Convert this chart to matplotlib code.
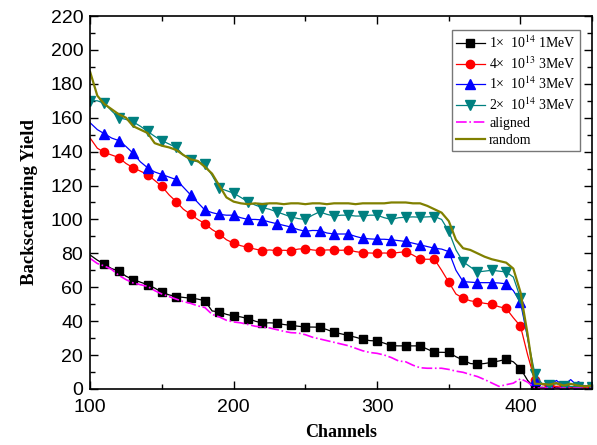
""" RBS spectra: backscattering yield vs channel """

import numpy as np
from matplotlib import pyplot as plt
from matplotlib.ticker import MultipleLocator

channels = np.arange(100, 451, 5)

yield_1e14_1mev = [
    79, 76, 73.5, 71, 69.5, 66.5, 64.5, 63, 61.5, 59.5,
    57, 55.5, 54.5, 54, 53.5, 53, 52, 46, 45.5, 44,
    43, 42.5, 41.5, 40, 38.8, 39, 38.8, 38, 37.5, 37,
    36.5, 36.5, 36.4, 35, 33.4, 32.5, 31.5, 30.5, 29.3, 28.5,
    28.3, 27, 25.5, 25.4, 25.4, 25.4, 25.4, 23.5, 21.6, 21.6,
    21.5, 19, 17, 15, 14.6, 15, 15.7, 16.5, 17.5, 16,
    12, 5, 0.5, 1, 0.5, 1, 0.5, 0.5, 1, 0.5, 0.5,
]
yield_4e13_3mev = [
    148, 142, 139.5, 138, 136.5, 133, 130.5, 128.5, 126.5, 123,
    119.5, 114.5, 110.5, 106, 103, 100, 97.5, 94, 91.5, 88,
    86, 84.5, 83.5, 82.5, 81.6, 82, 81.6, 81.8, 81.6, 82.5,
    82.8, 82, 81.6, 82, 82, 81.8, 82, 81, 80.4, 80.2,
    80, 80.2, 80, 80.5, 81, 79, 76.5, 76.5, 76.5, 70,
    63, 56, 53.5, 52, 51.3, 50.5, 50, 48.5, 47.5, 42,
    37, 20, 5, 2.5, 2, 1.5, 2, 1, 1.5, 1, 1,
]
yield_1e14_3mev = [
    157, 153, 150.5, 148, 146.5, 143, 139, 134, 130.5, 128,
    126.5, 125, 123.5, 119, 114.5, 110, 105.5, 104, 103, 102.5,
    102.5, 101, 100, 100, 99.7, 98.5, 97.5, 96.5, 95.5, 94,
    93, 93.5, 93.4, 92, 91.4, 91.4, 91.4, 90, 88.9, 88.5,
    88.3, 88.3, 88, 87.5, 87, 86, 85, 84, 83, 82.5,
    81, 70, 63.3, 63, 62.7, 62.7, 62.7, 62.5, 62, 58,
    51, 30, 5, 3, 2, 5, 2, 5.5, 1.5, 2, 1,
]
yield_2e14_3mev = [
    170, 170, 168.5, 164, 160, 159, 157.5, 155, 152, 149,
    146.5, 144.5, 142.5, 138, 135, 134, 132.5, 126, 118.5, 117,
    115.5, 113, 110.5, 108.5, 107, 106, 104.5, 103, 101.5, 100.5,
    100, 102.5, 104.5, 103, 102, 102.5, 102.5, 102, 102, 102.5,
    102.5, 101, 100, 101, 101.3, 101.5, 101.3, 101.5, 101.7, 100,
    93, 82, 75, 72, 69, 69.5, 70, 69.5, 69, 66,
    53.5, 30, 9, 3, 2.5, 3, 2, 1.5, 1, 2, 1,
]
yield_aligned = [
    77, 74, 72.5, 70.5, 67, 64.5, 62.5, 61.5, 60.5, 58,
    56, 54.5, 53, 51.5, 50.5, 49, 48, 44, 42.5, 40.5,
    39.5, 39, 38, 37, 36.5, 36, 35, 34, 33.2, 33,
    32, 30.5, 29.5, 28.5, 27.5, 26.5, 25.5, 24, 22.5, 21.5,
    21, 20, 18.5, 16.5, 16, 14, 12.5, 12.2, 12.2, 12.2,
    11.5, 10.5, 9.8, 8.5, 7.3, 5.5, 3.5, 1.5, 2.5, 3.4,
    6, 4, 0.5, 0.5, 0.5, 0.3, 0.5, 0.3, 0.5, 0.3, 0.5,
]
yield_random = [
    187, 173, 168, 165, 162, 160, 155, 153, 151, 145,
    143.5, 142.5, 141, 138, 135.5, 134.5, 131, 127, 120, 113,
    110.5, 109.5, 109, 109.5, 109, 109.5, 109.5, 109, 109.5, 109.5,
    109, 109.5, 109.5, 109, 109.5, 109.5, 109.5, 109, 109.5, 109.5,
    109.5, 109.5, 110, 110, 110, 109.5, 109.5, 108, 106, 104,
    99, 88, 83, 82, 80, 78, 76.5, 75.5, 74.5, 71,
    57, 32, 3, 3, 2.5, 3.5, 2, 3, 2, 1.5, 2,
]

plt.rcParams['font.family'] = ['Liberation Sans', 'DejaVu Sans']
plt.rcParams['mathtext.fontset'] = 'stix'

fig = plt.figure(figsize=(5.97, 4.45), dpi=100)
ax = fig.add_axes([0.151, 0.126, 0.841, 0.838])

ax.plot(channels, yield_1e14_1mev, color='black', lw=0.9, marker='s', ms=5.5,
        markevery=(2, 2), label='1\u00d7  10$^{14}$ 1MeV')
ax.plot(channels, yield_4e13_3mev, color='red', lw=0.9, marker='o', ms=6,
        markevery=(2, 2), label='4\u00d7  10$^{13}$ 3MeV')
ax.plot(channels, yield_1e14_3mev, color='blue', lw=0.9, marker='^', ms=6.5,
        markevery=(2, 2), label='1\u00d7  10$^{14}$ 3MeV')
ax.plot(channels, yield_2e14_3mev, color='#008080', lw=0.9, marker='v', ms=6.5,
        markevery=(0, 2), label='2\u00d7  10$^{14}$ 3MeV')
ax.plot(channels, yield_aligned, color='magenta', lw=1.2, ls='-.',
        label='aligned')
ax.plot(channels, yield_random, color='#808000', lw=1.6, label='random')

ax.set_xlim(100, 450)
ax.set_ylim(0, 220)
ax.xaxis.set_major_locator(MultipleLocator(100))
ax.xaxis.set_minor_locator(MultipleLocator(50))
ax.yaxis.set_major_locator(MultipleLocator(20))
ax.yaxis.set_minor_locator(MultipleLocator(10))
ax.tick_params(which='both', direction='in', top=True, right=True,
               labelsize=14, width=1.0)
ax.tick_params(which='major', length=6)
ax.tick_params(which='minor', length=3.5)
ax.tick_params(axis='x', which='major', pad=7)
ax.tick_params(axis='y', which='major', pad=5)
for spine in ax.spines.values():
    spine.set_linewidth(1.2)

ax.set_xlabel('Channels', family='Liberation Serif', fontweight='bold',
              fontsize=13, labelpad=6)
ax.set_ylabel('Backscattering Yield', family='Liberation Serif',
              fontweight='bold', fontsize=13.5, labelpad=9)

leg = ax.legend(loc='upper right', bbox_to_anchor=(0.976, 0.962),
                prop={'family': 'Liberation Serif', 'size': 10},
                frameon=True, fancybox=False, edgecolor='#555555',
                handlelength=2.1, handletextpad=0.3, borderpad=0.3,
                labelspacing=0.3, borderaxespad=0.0)
leg.get_frame().set_linewidth(1.0)

fig.savefig('out.png', dpi=100)
